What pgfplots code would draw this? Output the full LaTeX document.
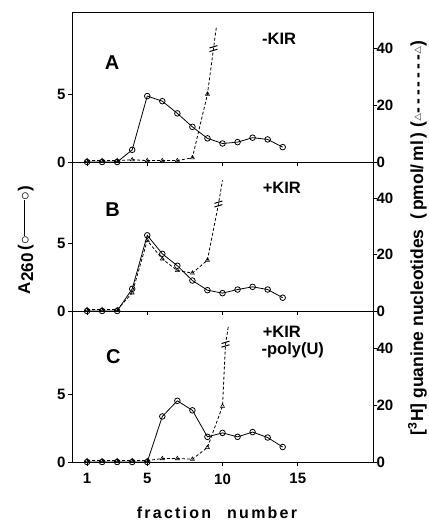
\documentclass[border=0pt]{standalone}
\usepackage{pgfplots}
\pgfplotsset{compat=1.18}
\usepackage{fontspec}
\setmainfont{Liberation Sans}

\pgfdeclareplotmark{brk}{%
  \pgfpathmoveto{\pgfpoint{-4pt}{0.8pt}}\pgfpathlineto{\pgfpoint{4pt}{3.2pt}}%
  \pgfpathmoveto{\pgfpoint{-4pt}{-2.8pt}}\pgfpathlineto{\pgfpoint{4pt}{-0.4pt}}%
  \pgfusepathqstroke}

\pgfplotsset{
  base/.style={scale only axis, width=301pt, xmin=0, xmax=20, anchor=south west,
    xtick={1,5,10,15}, tick align=outside, major tick length=4pt,
    tick style={line width=0.8pt, black}, axis line style={line width=0.9pt},
    ticklabel style={font=\fontsize{15}{15}\selectfont\bfseries},
    /pgf/number format/assume math mode=true, clip=false},
  panelL/.style={base, ymin=0, ymax=11.1, ytick={0,5}, xtick pos=left, ytick pos=left,
    yticklabel style={xshift=1pt}, xticklabel style={yshift=-4pt}},
  panelR/.style={base, ymin=0, ymax=53, ytick={0,20,40}, axis y line*=right, axis x line=none,
    yticklabel style={xshift=-4pt}},
  circ/.style={black, line width=0.8pt, mark=o, mark size=2.8pt, mark options={solid, fill=white}},
  triline/.style={black, line width=0.8pt, dash pattern=on 3pt off 2pt},
  trimark/.style={black, only marks, mark=triangle, mark size=2.3pt, mark options={solid, fill=white, line width=0.6pt}},
  brkmark/.style={black, only marks, mark=brk, mark options={line width=1pt}},
}
\tikzset{
  plab/.style={font=\fontsize{20}{20}\selectfont\bfseries},
  klab/.style={font=\fontsize{16.5}{16.5}\selectfont\bfseries, anchor=west, inner sep=1pt},
}

\begin{document}
\begin{tikzpicture}
\useasboundingbox (0pt,0pt) rectangle (428pt,-521pt);

% ---------------- Panel A ----------------
\begin{axis}[panelL, at={(72pt,-162pt)}, height=150pt, xticklabels={}]
\addplot[circ] coordinates {(1,0)(2,0)(3,0)(4,0.9)(5,4.88)(6,4.5)(7,3.6)(8,2.6)(9,1.75)(10,1.37)(11,1.47)(12,1.8)(13,1.67)(14,1.1)};
\node[plab] at (rel axis cs:0.133,0.66) {A};
\node[klab] at (rel axis cs:0.628,0.82) {-KIR};
\end{axis}
\begin{axis}[panelR, at={(72pt,-162pt)}, height=150pt]
\addplot[triline] coordinates {(1,0.5)(2,0.5)(3,0.5)(4,0.8)(5,0.5)(6,0.5)(7,0.5)(8,1.5)(9,24)(9.4,40)(9.6,48)};
\addplot[trimark] coordinates {(1,0.5)(2,0.5)(3,0.5)(4,0.8)(5,0.5)(6,0.5)(7,0.5)(8,1.5)(9,24)};
\addplot[brkmark] coordinates {(9.4,40)};
\end{axis}

% ---------------- Panel B ----------------
\begin{axis}[panelL, at={(72pt,-311pt)}, height=149pt, xticklabels={}]
\addplot[circ] coordinates {(1,0)(2,0)(3,0)(4,1.65)(5,5.64)(6,4.26)(7,3.37)(8,2.27)(9,1.55)(10,1.33)(11,1.6)(12,1.8)(13,1.6)(14,0.99)};
\node[plab] at (rel axis cs:0.135,0.68) {B};
\node[klab] at (rel axis cs:0.630,0.83) {+KIR};
\end{axis}
\begin{axis}[panelR, at={(72pt,-311pt)}, height=149pt]
\addplot[triline] coordinates {(1,0.5)(2,0.5)(3,0.5)(4,6.4)(5,25.1)(6,18.5)(7,14.4)(8,13.5)(9,18.1)(9.73,38)(10,46.5)};
\addplot[trimark] coordinates {(1,0.5)(2,0.5)(3,0.5)(4,6.4)(5,25.1)(6,18.5)(7,14.4)(8,13.5)(9,18.1)};
\addplot[brkmark] coordinates {(9.73,38)};
\end{axis}

% ---------------- Panel C ----------------
\begin{axis}[panelL, at={(72pt,-462pt)}, height=151pt]
\addplot[circ] coordinates {(1,0)(2,0)(3,0)(4,0)(5,0)(6,3.35)(7,4.5)(8,3.8)(9,1.85)(10,2.14)(11,1.85)(12,2.2)(13,1.8)(14,1.1)};
\node[plab] at (rel axis cs:0.137,0.695) {C};
\node[klab] at (rel axis cs:0.630,0.862) {+KIR};
\node[klab] at (rel axis cs:0.626,0.742) {-poly(U)};
\end{axis}
\begin{axis}[panelR, at={(72pt,-462pt)}, height=151pt]
\addplot[triline] coordinates {(1,0.5)(2,0.5)(3,0.5)(4,0.5)(5,0.5)(6,1.2)(7,1.2)(8,1.0)(9,5.1)(10,19.6)(10.2,41.3)(10.4,48)};
\addplot[trimark] coordinates {(1,0.5)(2,0.5)(3,0.5)(4,0.5)(5,0.5)(6,1.2)(7,1.2)(8,1.0)(9,5.1)(10,19.6)};
\addplot[brkmark] coordinates {(10.2,41.3)};
\end{axis}

% ---------------- Axis titles ----------------
\node[rotate=90, anchor=base, font=\fontsize{17}{17}\selectfont\bfseries] at (30pt,-240pt)
  {A\raisebox{-0.35ex}{260}\,(\raisebox{0.05ex}{$\circ$}\rule[0.62ex]{36pt}{0.8pt}\raisebox{0.05ex}{$\circ$})};
\node[rotate=90, anchor=base, font=\fontsize{17.5}{17.5}\selectfont\bfseries] at (423pt,-238pt)
  {[\textsuperscript{3}H] guanine nucleotides\ \ (\,pmol/\,ml\,)\ (\raisebox{0.2ex}{$\scriptscriptstyle\triangle$}-\,-\,-\,-\,-\,-\,-\raisebox{0.2ex}{$\scriptscriptstyle\triangle$})};
\node[anchor=base, font=\fontsize{16}{16}\selectfont\bfseries\addfontfeature{LetterSpace=14}] at (217pt,-518pt)
  {fraction\quad number};
\end{tikzpicture}
\end{document}
